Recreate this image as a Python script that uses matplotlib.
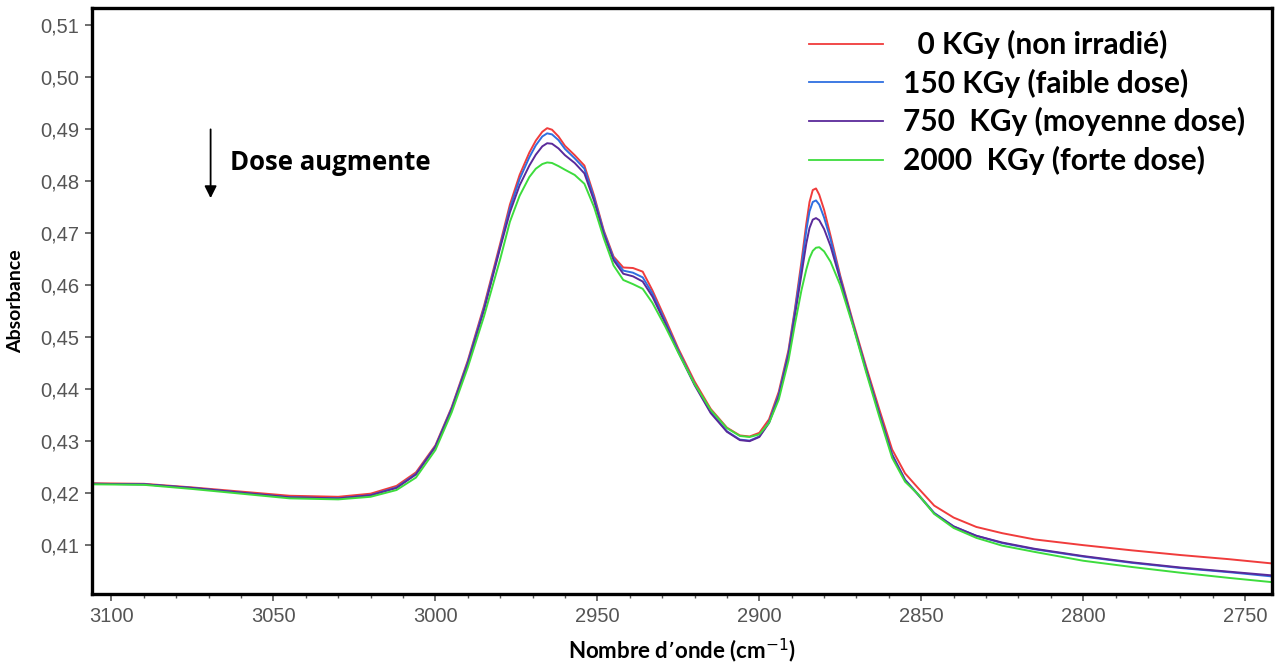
import matplotlib
matplotlib.use("Agg")
from matplotlib import pyplot as plt
from matplotlib.ticker import FuncFormatter, MultipleLocator

# wavenumber grid (cm-1)
wavenumber = [3106, 3090, 3075, 3060, 3045, 3030, 3020, 3012, 3006, 3000,
              2995, 2990, 2985, 2980, 2977, 2974, 2971, 2969, 2967, 2965.5,
              2964, 2962, 2960, 2957, 2954, 2951, 2948, 2945, 2942, 2939,
              2936, 2933, 2929, 2925, 2920, 2915, 2910, 2906, 2903, 2900,
              2897, 2894, 2891, 2889, 2887, 2885.5, 2884.5, 2883.5, 2882.5, 2881.5,
              2880, 2878, 2875, 2871, 2867, 2863, 2859, 2855, 2851, 2846,
              2840, 2833, 2825, 2815, 2800, 2785, 2770, 2755, 2742]

abs_0 = [.4219, .4218, .4211, .4203, .4195, .4193, .4199, .4214, .4240, .4292,
         .4365, .4455, .4560, .4680, .4755, .4812, .4855, .4878, .4895, .4902,
         .4899, .4886, .4868, .4850, .4830, .4772, .4705, .4655, .4634, .4633,
         .4626, .4590, .4535, .4478, .4415, .4362, .4326, .4311, .4309, .4316,
         .4342, .4395, .4475, .4555, .4645, .4718, .4760, .4783, .4786, .4774,
         .4745, .4695, .4618, .4528, .4443, .4362, .4284, .4238, .4210, .4176,
         .4153, .4135, .4123, .4111, .4100, .4090, .4081, .4073, .4065]

abs_150 = [.4218, .4217, .4210, .4201, .4192, .4190, .4196, .4211, .4237, .4290,
           .4363, .4452, .4556, .4675, .4748, .4804, .4846, .4869, .4886, .4892,
           .4890, .4879, .4862, .4844, .4824, .4768, .4702, .4652, .4628, .4624,
           .4615, .4584, .4530, .4474, .4410, .4356, .4319, .4303, .4301, .4309,
           .4337, .4390, .4470, .4550, .4635, .4705, .4742, .4760, .4763, .4755,
           .4730, .4688, .4614, .4524, .4438, .4355, .4275, .4226, .4198, .4162,
           .4136, .4118, .4104, .4092, .4078, .4066, .4056, .4048, .4040]

abs_750 = [.4218, .4217, .4210, .4201, .4192, .4190, .4196, .4210, .4236, .4289,
           .4361, .4449, .4552, .4672, .4740, .4792, .4830, .4851, .4867, .4873,
           .4872, .4863, .4850, .4835, .4815, .4762, .4698, .4648, .4622, .4617,
           .4607, .4578, .4526, .4471, .4408, .4354, .4318, .4302, .4300, .4308,
           .4335, .4386, .4465, .4542, .4620, .4680, .4710, .4726, .4729, .4725,
           .4708, .4675, .4610, .4522, .4436, .4353, .4273, .4225, .4197, .4161,
           .4136, .4118, .4105, .4093, .4079, .4067, .4057, .4049, .4042]

abs_2000 = [.4217, .4216, .4208, .4199, .4190, .4188, .4193, .4206, .4230, .4283,
            .4355, .4442, .4540, .4650, .4722, .4772, .4808, .4824, .4833, .4836,
            .4835, .4829, .4822, .4812, .4795, .4750, .4690, .4638, .4610, .4602,
            .4593, .4566, .4520, .4470, .4410, .4360, .4325, .4310, .4308, .4313,
            .4335, .4380, .4455, .4525, .4590, .4630, .4652, .4666, .4672, .4673,
            .4665, .4645, .4600, .4520, .4432, .4348, .4268, .4222, .4198, .4160,
            .4133, .4114, .4099, .4087, .4070, .4058, .4047, .4037, .4029]

labels = ["  0 KGy (non irradié)", "150 KGy (faible dose)",
          "750  KGy (moyenne dose)", "2000  KGy (forte dose)"]
colors = ["#f03c3c", "#2f6fe0", "#5a2a9a", "#3ddc3d"]

fig = plt.figure(figsize=(12.75, 6.70), dpi=100)
ax = fig.add_axes([0.0722, 0.1134, 0.9255, 0.8746])

for series, lab, col in zip([abs_0, abs_150, abs_750, abs_2000], labels, colors):
    ax.plot(wavenumber, series, color=col, lw=1.4, label=lab)

ax.set_xlim(3106, 2741.7)
ax.set_ylim(0.4006, 0.5133)

ax.set_yticks([0.41, 0.42, 0.43, 0.44, 0.45, 0.46, 0.47, 0.48, 0.49, 0.50, 0.51])
ax.yaxis.set_major_formatter(FuncFormatter(lambda v, p: f"{v:.2f}".replace(".", ",")))
ax.set_xticks([3100, 3050, 3000, 2950, 2900, 2850, 2800, 2750])
ax.xaxis.set_minor_locator(MultipleLocator(10))

tick_font = ["Liberation Sans Narrow", "Liberation Sans", "DejaVu Sans"]
for lbl in ax.get_xticklabels() + ax.get_yticklabels():
    lbl.set_family(tick_font)
ax.tick_params(axis="both", which="major", labelsize=14.5, labelcolor="#555555",
               color="#555555", length=5, width=1.2, pad=4)
ax.tick_params(axis="x", which="minor", length=3, width=1, color="#555555")

for s in ax.spines.values():
    s.set_linewidth(2.4)
    s.set_color("black")

bold_font = ["Lato", "DejaVu Sans"]
ax.set_ylabel("Absorbance", fontsize=14, fontweight="bold", family=bold_font)
ax.yaxis.set_label_coords(-0.058, 0.5)
ax.set_xlabel("Nombre d\u2019onde (cm$^{-1}$)", fontsize=16, fontweight="bold",
              family=bold_font)
ax.xaxis.set_label_coords(0.5, -0.072)

# dose arrow
ax.annotate("", xy=(3069.4, 0.4762), xytext=(3069.4, 0.4905),
            arrowprops=dict(arrowstyle="-|>", color="black", lw=1.3, mutation_scale=18))
ax.text(3063.3, 0.4836, "Dose augmente", fontsize=18.5, fontweight="bold",
        family=["Open Sans", "DejaVu Sans"], va="center", ha="left")

leg = ax.legend(loc="upper right", bbox_to_anchor=(0.987, 0.983), borderaxespad=0,
                frameon=False, handlelength=2.45, handletextpad=0.67, labelspacing=0.32,
                prop={"family": bold_font, "weight": "bold", "size": 21.5})
for h in leg.get_lines():
    h.set_linewidth(1.3)

fig.savefig("out.png", dpi=100)
